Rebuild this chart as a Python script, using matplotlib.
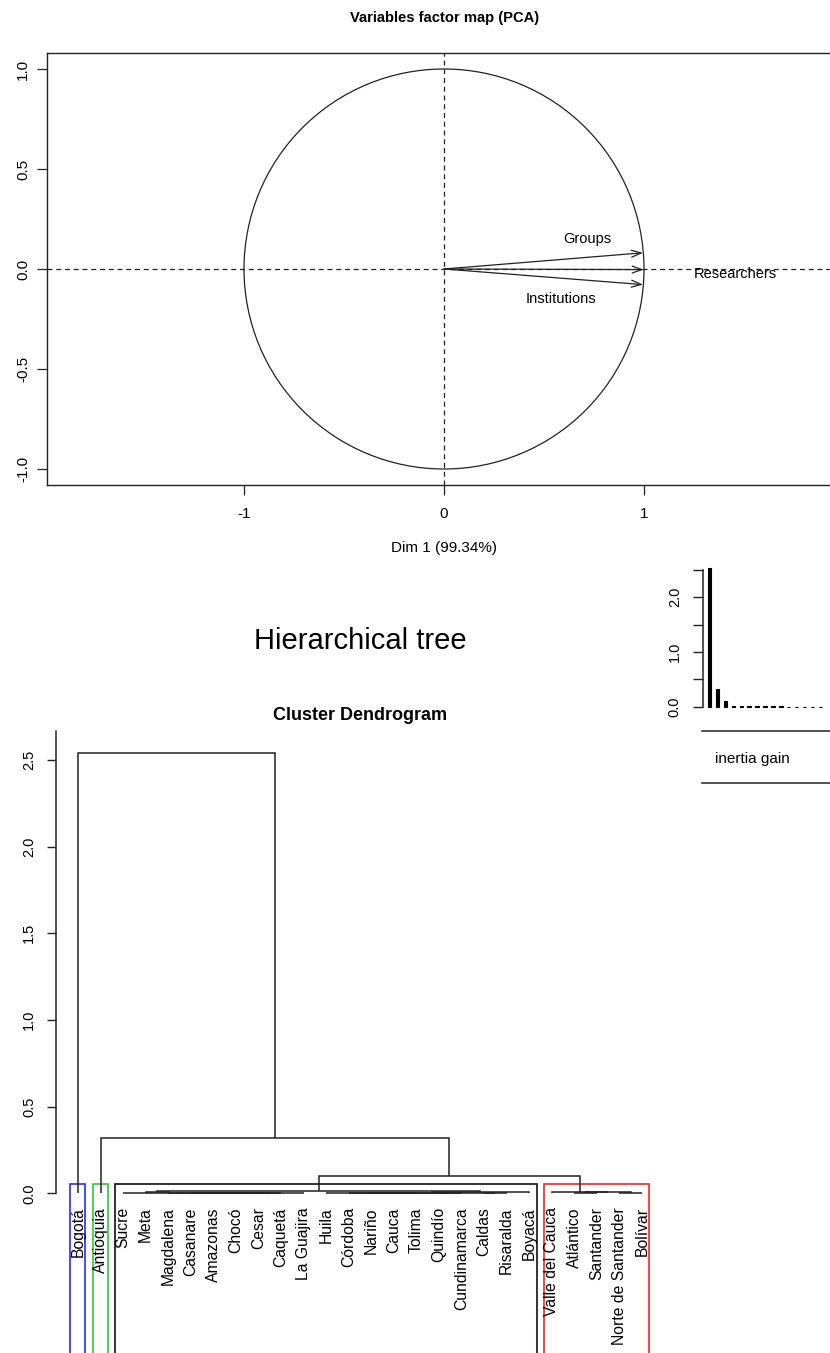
import numpy as np
import matplotlib
matplotlib.use("Agg")
import matplotlib.pyplot as plt
from matplotlib.patches import Circle, Rectangle

plt.rcParams['font.family'] = ['Liberation Sans', 'DejaVu Sans']

# ---------------- data ----------------
# PCA correlation circle: variable coordinates on Dim 1 / Dim 2
variables = ["Groups", "Researchers", "Institutions"]
dim1 = [0.995, 0.999, 0.995]
dim2 = [0.081, -0.003, -0.078]
dim1_pct = 99.34

# Hierarchical clustering of departments (leaf order as drawn)
leaves = ["Bogotá", "Antioquia", "Sucre", "Meta", "Magdalena", "Casanare",
          "Amazonas", "Chocó", "Cesar", "Caquetá", "La Guajira", "Huila",
          "Córdoba", "Nariño", "Cauca", "Tolima", "Quindío", "Cundinamarca",
          "Caldas", "Risaralda", "Boyacá", "Valle del Cauca", "Atlántico",
          "Santander", "Norte de Santander", "Bolívar"]

# merges: negative = leaf position (1-based), positive = earlier merge (1-based)
merge_a = [-7, -9, 1, -6, 4, -5, 6, -4, -15, -14, -13, -17, 11, -12, -19, 14, 16, 8, -23, -25, 19, -22, 18, -2, -1]
merge_b = [-8, -10, 2, 3, -11, 5, -3, 7, -16, 9, 10, -18, 12, 13, -20, 15, -21, 17, -24, -26, 20, 21, 22, 23, 24]
merge_h = [0.0006, 0.0008, 0.0015, 0.0022, 0.0030, 0.0035, 0.0040, 0.0060,
           0.0005, 0.0010, 0.0015, 0.0012, 0.0025, 0.0030, 0.0020, 0.0040,
           0.0070, 0.0120, 0.0030, 0.0020, 0.0050, 0.0090, 0.1000, 0.3170,
           2.5370]

n_clusters = 4
cluster_sizes = [1, 1, 19, 5]
cluster_colors = ["#2a2aff", "#30c830", "#111111", "#ff2020"]
n_gain_bars = 15

# ---------------- figure ----------------
W, H = 830, 1353
fig = plt.figure(figsize=(W / 100, H / 100), dpi=100)


def px_axes(left, top, right, bottom):
    return fig.add_axes([left / W, 1 - bottom / H, (right - left) / W, (bottom - top) / H])


ink = "#222222"

# ---------- Variables factor map ----------
ax = px_axes(47, 53, 841, 485)
ax.set_xlim(-1.985, 1.985)
ax.set_ylim(-1.08, 1.08)
for s in ax.spines.values():
    s.set_color(ink)
    s.set_linewidth(1.0)
ax.add_patch(Circle((0, 0), 1, fill=False, lw=0.9, color=ink))
ax.axhline(0, ls=(0, (4, 3)), lw=0.9, color=ink)
ax.axvline(0, ls=(0, (4, 3)), lw=0.9, color=ink)

label_offsets = {"Groups": (-0.28, 0.07), "Researchers": (0.46, -0.02),
                 "Institutions": (-0.41, -0.07)}
for name, x, y in zip(variables, dim1, dim2):
    ax.annotate("", xy=(x, y), xytext=(0, 0),
                arrowprops=dict(arrowstyle="->,head_length=0.7,head_width=0.25",
                                lw=0.9, color=ink, shrinkA=0, shrinkB=0))
    dx, dy = label_offsets[name]
    ax.text(x + dx, y + dy, name, ha="center", va="center", fontsize=10.5)

ax.set_xticks([-1, 0, 1])
ax.set_xticklabels(["-1", "0", "1"])
ax.set_yticks([-1, -0.5, 0, 0.5, 1])
ax.set_yticklabels(["-1.0", "-0.5", "0.0", "0.5", "1.0"], rotation=90, va="center")
ax.tick_params(axis="x", length=7, width=0.9, color=ink, pad=9, labelsize=11)
ax.tick_params(axis="y", length=7, width=0.9, color=ink, pad=5, labelsize=11)

fig.text(444.5 / W, 1 - 18 / H, "Variables factor map (PCA)", ha="center", va="center",
         fontsize=10.6, fontweight="bold")
fig.text(444 / W, 1 - 548 / H, f"Dim 1 ({dim1_pct:.2f}%)", ha="center", va="center",
         fontsize=11)

# ---------- Hierarchical tree ----------
fig.text(360.5 / W, 1 - 641 / H, "Hierarchical tree", ha="center", va="center", fontsize=21)
fig.text(360 / W, 1 - 716 / H, "Cluster Dendrogram", ha="center", va="center",
         fontsize=13, fontweight="bold")

n = len(leaves)
y_low = -(1353 - 1193.3) / 173.4
y_top = 2.668
ad = px_axes(55.5, 1193.3 - y_top * 173.4, 664.5, 1353)
ad.set_xlim(0, n + 1)
ad.set_ylim(y_low, y_top)
for side in ["top", "right", "bottom"]:
    ad.spines[side].set_visible(False)
ad.spines["left"].set_bounds(0, y_top)
ad.spines["left"].set_color(ink)
ad.spines["left"].set_linewidth(1.1)
ad.set_xticks([])
ad.set_yticks([0, 0.5, 1.0, 1.5, 2.0, 2.5])
ad.set_yticklabels(["0.0", "0.5", "1.0", "1.5", "2.0", "2.5"], rotation=90, va="center")
ad.tick_params(axis="y", length=6.5, width=1.0, color=ink, pad=7.5, labelsize=10.5)

node_x, node_h = {}, {}


def node_pos(ref):
    if ref < 0:
        return float(-ref), 0.0
    return node_x[ref], node_h[ref]


for i, (a, b, h) in enumerate(zip(merge_a, merge_b, merge_h), start=1):
    xa, ha = node_pos(a)
    xb, hb = node_pos(b)
    ad.plot([xa, xa, xb, xb], [ha, h, h, hb], color=ink, lw=1.1,
            solid_joinstyle="miter", solid_capstyle="butt")
    node_x[i] = (xa + xb) / 2
    node_h[i] = h

for i, name in enumerate(leaves, start=1):
    ad.annotate(name, xy=(i, 0), xytext=(0, -10), textcoords="offset points",
                rotation=90, ha="center", va="top", fontsize=11.3)

# cluster rectangles (cut between the k-1 and k highest merges)
heights_desc = sorted(merge_h, reverse=True)
rect_top = np.mean(heights_desc[n_clusters - 2:n_clusters])
start = 1
for size, col in zip(cluster_sizes, cluster_colors):
    left = start - 0.34
    right = start + size - 1 + 0.33
    ad.add_patch(Rectangle((left, y_low - 0.2), right - left, rect_top - y_low + 0.2,
                           fill=False, edgecolor=col, lw=1.2, clip_on=False))
    start += size

# ---------- inertia gain inset ----------
pitch = 7.9
x0 = 709.7
x_right = 832
ai = px_axes(702.7, 706.7 - 2.6 * 54.7, x_right, 706.7 + 0.1 * 54.7)
gains = heights_desc[:n_gain_bars]
ai.bar(np.arange(n_gain_bars), gains, width=0.45, color="black", edgecolor="black", lw=0.8)
ai.set_xlim(-(x0 - 702.7) / pitch, (x_right - x0) / pitch)
ai.set_ylim(-0.1, 2.6)
for side in ["top", "right", "bottom"]:
    ai.spines[side].set_visible(False)
ai.spines["left"].set_bounds(0, 2.5)
ai.spines["left"].set_color(ink)
ai.spines["left"].set_linewidth(1.1)
ai.set_xticks([])
ai.set_yticks([0, 0.5, 1.0, 1.5, 2.0, 2.5])
ai.set_yticklabels(["0.0", "", "1.0", "", "2.0", ""], rotation=90, va="center")
ai.tick_params(axis="y", length=7, width=1.0, color=ink, pad=8, labelsize=10.5)

# legend strip under the inset
for yy in (730.7, 783.3):
    fig.add_artist(plt.Line2D([701.7 / W, 1.0], [1 - yy / H, 1 - yy / H],
                              color=ink, lw=1.1, transform=fig.transFigure))
fig.text(752 / W, 1 - 759 / H, "inertia gain", ha="center", va="center", fontsize=11)

fig.savefig("out.png", dpi=100)
